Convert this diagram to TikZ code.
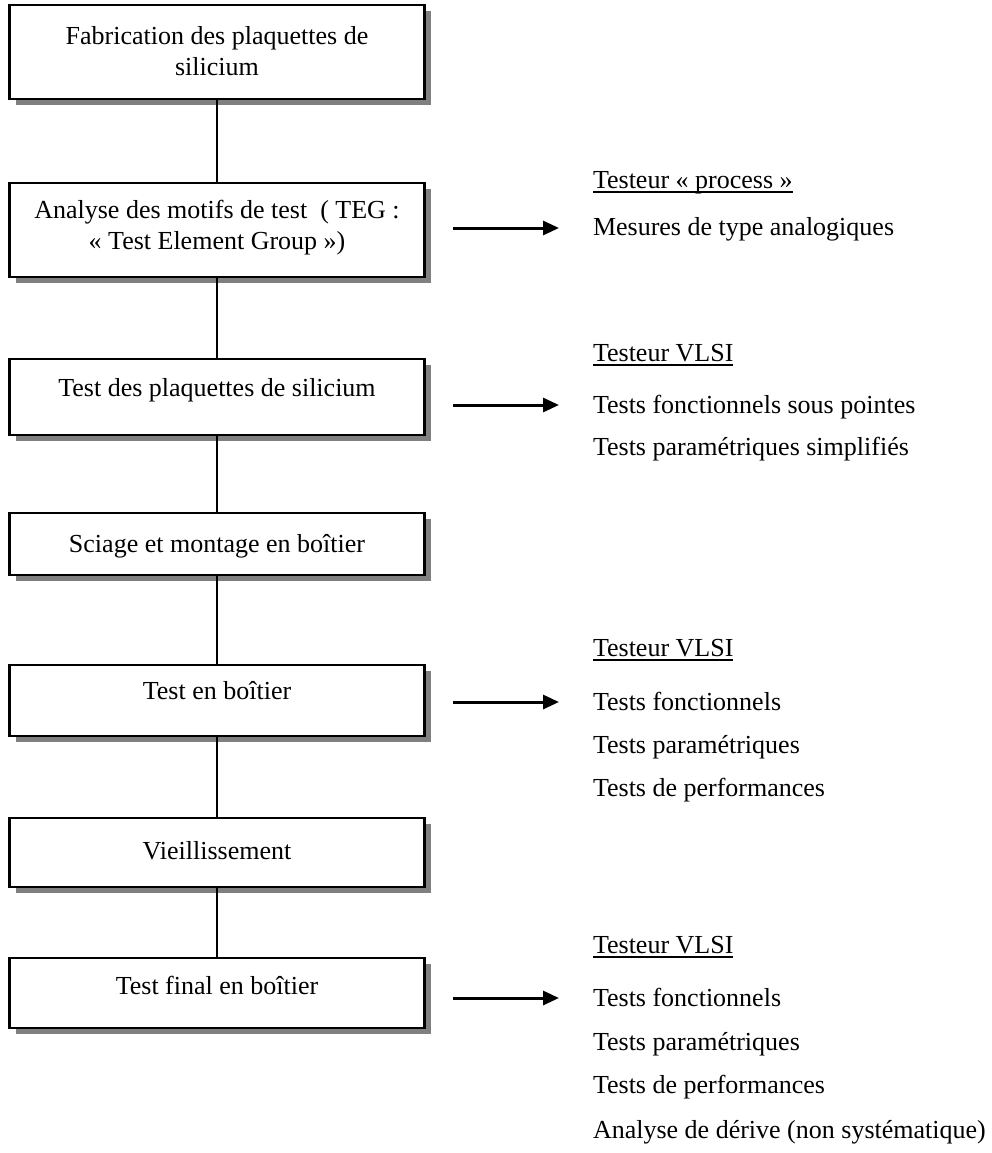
\documentclass[tikz,border=0pt]{standalone}
\usepackage{fontspec}
\setmainfont{Liberation Serif}
\usetikzlibrary{arrows.meta,shadows}
\begin{document}
\begin{tikzpicture}[x=1pt,y=-1pt,
  every node/.style={inner sep=0pt,outer sep=0pt,font=\fontsize{26}{31}\selectfont},
  stepbox/.style={draw,line width=2.2pt,fill=white,minimum width=415pt,
    drop shadow={shadow xshift=6pt,shadow yshift=-6pt,fill=black!50,opacity=1}},
  boxtext/.style={anchor=north,align=center},
  side/.style={anchor=base west},
  link/.style={line width=2.2pt},
  outarrow/.style={line width=3pt,-{Triangle[length=16pt,width=14pt]}},
  uline/.style={line width=1.3pt}
]
\useasboundingbox (0,0) rectangle (991,1153);

% process steps
\node[stepbox,minimum height=94pt] (b1) at (217,52) {};
\node[stepbox,minimum height=94pt] (b2) at (217,230) {};
\node[stepbox,minimum height=76pt] (b3) at (217,397) {};
\node[stepbox,minimum height=62pt] (b4) at (217,544) {};
\node[stepbox,minimum height=71pt] (b5) at (217,700.5) {};
\node[stepbox,minimum height=69pt] (b6) at (217,852.5) {};
\node[stepbox,minimum height=70pt] (b7) at (217,993) {};

\node[boxtext] (t1) at (217,26) {Fabrication des plaquettes de\\silicium};
\node[boxtext] (t2) at (217,200) {Analyse des motifs de test ~( TEG :\\« Test Element Group »)};
\node[boxtext] (t3) at (217,378) {Test des plaquettes de silicium};
\node[boxtext] (t4) at (217,534) {Sciage et montage en boîtier};
\node[boxtext] (t5) at (217,681) {Test en boîtier};
\node[boxtext] (t6) at (217,841) {Vieillissement};
\node[boxtext] (t7) at (217,976) {Test final en boîtier};

% vertical links
\draw[link] (b1.south) -- (b2.north);
\draw[link] (b2.south) -- (b3.north);
\draw[link] (b3.south) -- (b4.north);
\draw[link] (b4.south) -- (b5.north);
\draw[link] (b5.south) -- (b6.north);
\draw[link] (b6.south) -- (b7.north);

% arrows towards the testers
\coordinate (a2s) at (453,228); \coordinate (a2e) at (559,228);
\coordinate (a3s) at (453,405); \coordinate (a3e) at (559,405);
\coordinate (a5s) at (453,702); \coordinate (a5e) at (559,702);
\coordinate (a7s) at (453,998); \coordinate (a7e) at (559,998);
\draw[outarrow] (a2s) -- (a2e);
\draw[outarrow] (a3s) -- (a3e);
\draw[outarrow] (a5s) -- (a5e);
\draw[outarrow] (a7s) -- (a7e);

% tester descriptions
\node[side] (h2) at (593,188) {Testeur « process »};
\node[side] (m2a) at (593,235) {Mesures de type analogiques};

\node[side] (h3) at (593,361) {Testeur VLSI};
\node[side] (m3a) at (593,413) {Tests fonctionnels sous pointes};
\node[side] (m3b) at (593,455) {Tests paramétriques simplifiés};

\node[side] (h5) at (593,656) {Testeur VLSI};
\node[side] (m5a) at (593,710) {Tests fonctionnels};
\node[side] (m5b) at (593,753) {Tests paramétriques};
\node[side] (m5c) at (593,796) {Tests de performances};

\node[side] (h7) at (593,953) {Testeur VLSI};
\node[side] (m7a) at (593,1006) {Tests fonctionnels};
\node[side] (m7b) at (593,1050) {Tests paramétriques};
\node[side] (m7c) at (593,1093) {Tests de performances};
\node[side] (m7d) at (593,1138) {Analyse de dérive (non systématique)};

% underlined headings
\foreach \h in {h2,h3,h5,h7}
  \draw[uline] ([yshift=-4pt]\h.base west) -- ([yshift=-4pt]\h.base east);
\end{tikzpicture}
\end{document}
